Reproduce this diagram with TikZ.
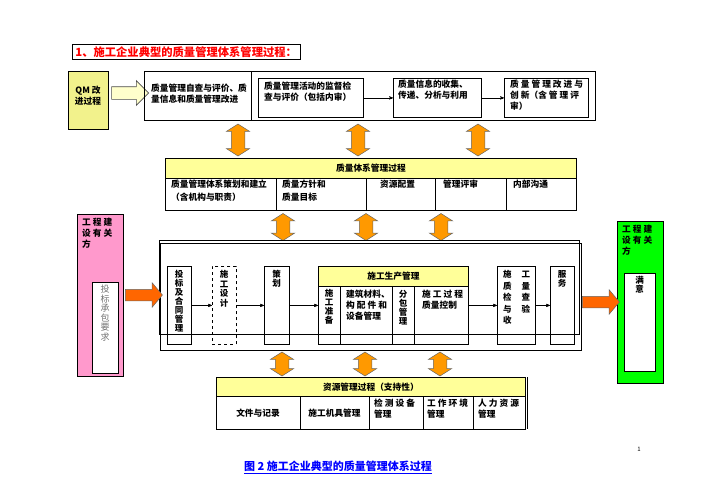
\documentclass[tikz,border=0pt]{standalone}
\usepackage{fontspec}
\setmainfont{Noto Sans CJK SC}
\usetikzlibrary{arrows, shapes.arrows, positioning}

\definecolor{qmyellow}{HTML}{F2F28C}
\definecolor{hdyellow}{HTML}{FFFF99}
\definecolor{pinkbox}{HTML}{FF99CC}
\definecolor{greenbox}{HTML}{00FF00}
\definecolor{arrorange}{HTML}{FF9900}
\definecolor{bigorange}{HTML}{FF6600}
\definecolor{hollowyellow}{HTML}{FFFFCC}

\begin{document}
\begin{tikzpicture}[x=1pt, y=-1pt, >=stealth',
	every node/.style = {font=\bfseries\fontsize{8.7}{11}\selectfont, inner sep=0pt},
	box/.style = {draw, line width=0.8pt, anchor=north west},
	txt/.style = {anchor=north west, align=left},
	vtxt/.style = {anchor=north, align=center, font=\bfseries\fontsize{8.5}{9}\selectfont},
	link/.style = {->, line width=0.5pt},
	updown/.style = {double arrow, draw=black!60, fill=arrorange, line width=0.5pt,
		shape border rotate=90, minimum height=#1, inner xsep=6.5pt, inner ysep=0pt,
		double arrow head extend=5pt, double arrow tip angle=115},
	bigarrow/.style = {single arrow, draw=black!60, fill=bigorange, line width=0.5pt,
		minimum height=37pt, inner ysep=5.5pt, inner xsep=0pt, single arrow head extend=6.5pt,
		single arrow tip angle=100}]
	\useasboundingbox (0,0) rectangle (702,496);

	% title
	\node[draw, line width=0.8pt, anchor=north west, text width=222pt, inner xsep=3pt, inner ysep=2pt,
		text=red, font=\bfseries\fontsize{11.3}{13}\selectfont] (title) at (72,44)
		{1、施工企业典型的质量管理体系管理过程：};

	% top row: improvement
	\node[box, fill=qmyellow, minimum width=40pt, minimum height=58pt] (qm) at (68,71) {};
	\node[align=center] (qmtext) at (88,96) {QM 改\\进过程};
	\node[single arrow, draw=black!70, fill=hollowyellow, line width=0.6pt, minimum height=37pt,
		inner ysep=6pt, inner xsep=0pt, single arrow head extend=6pt] (qmarrow) at (127,93) {};
	\node[box, minimum width=451pt, minimum height=49pt] (topbox) at (144,71) {};
	\draw[line width=0.8pt] (251,71) -- (251,120);
	\node[txt] (t1) at (151,84) {质量管理自查与评价、质\\量信息和质量管理改进};
	\node[box, minimum width=105pt, minimum height=39pt] (b2) at (258,78) {};
	\node[txt] at (264,82) {质量管理活动的监督检\\查与评价（包括内审）};
	\node[box, minimum width=88pt, minimum height=39pt] (b3) at (393,78) {};
	\node[txt] at (398,80) {质量信息的收集、\\传递、分析与利用};
	\node[box, minimum width=84pt, minimum height=39pt] (b4) at (504,78) {};
	\node[txt] at (510,80) {质 量 管 理 改 进 与\\创 新（含 管 理 评\\审）};
	\draw[link] (b2) -- (b3);
	\draw[link] (b3) -- (b4);

	\node[updown=32pt] (ua1) at (238,140) {};
	\node[updown=32pt] (ua2) at (358,140) {};
	\node[updown=32pt] (ua3) at (478,140) {};

	% quality system process
	\node[box, fill=hdyellow, minimum width=411pt, minimum height=20pt] (qmshead) at (165,158) {质量体系管理过程};
	\node[box, minimum width=411pt, minimum height=32pt] (qmsrow) at (165,178) {};
	\foreach \x in {276, 366, 435, 506}
		\draw[line width=0.8pt] (\x,178) -- (\x,210);
	\node[txt, font=\bfseries\fontsize{8.7}{13}\selectfont] at (171,180) {质量管理体系策划和建立\\（含机构与职责）};
	\node[txt, font=\bfseries\fontsize{8.7}{13}\selectfont] at (282,180) {质量方针和\\质量目标};
	\node[txt] at (380,180) {资源配置};
	\node[txt] at (443,180) {管理评审};
	\node[txt] at (513,180) {内部沟通};

	\node[updown=27pt] (ma1) at (283,227) {};
	\node[updown=27pt] (ma2) at (366,227) {};
	\node[updown=27pt] (ma3) at (441,227) {};

	% construction process
	\draw[line width=0.6pt] (159,240) rectangle (579,334);
	\node[box, line width=1.1pt, minimum width=421pt, minimum height=107pt] (mainbox) at (160,243) {};
	\node[box, minimum width=24pt, minimum height=78pt] (ht) at (167,266) {};
	\node[vtxt] at (179,270) {投\\标\\及\\合\\同\\管\\理};
	\node[box, dashed, minimum width=24pt, minimum height=78pt] (sj) at (212,266) {};
	\node[vtxt, font=\bfseries\fontsize{8.5}{9.5}\selectfont] at (224,270) {施\\工\\设\\计};
	\node[box, minimum width=25pt, minimum height=78pt] (ch) at (264,266) {};
	\node[vtxt] at (276.5,270) {策\\划};
	\node[box, fill=hdyellow, minimum width=150pt, minimum height=20pt] (sc) at (318,266) {施工生产管理};
	\node[box, minimum width=22pt, minimum height=58pt] (zb) at (318,286) {};
	\node[vtxt] at (329,289) {施\\工\\准\\备};
	\node[box, minimum width=52pt, minimum height=58pt] (cl) at (340,286) {};
	\node[txt] at (346,290) {建筑材料、\\构 配 件 和\\设备管理};
	\node[box, minimum width=22pt, minimum height=58pt] (fb) at (392,286) {};
	\node[vtxt] at (403,290) {分\\包\\管\\理};
	\node[box, minimum width=54pt, minimum height=58pt] (gc) at (414,286) {};
	\node[txt] at (422,290) {施 工 过 程\\质量控制};
	\node[box, minimum width=38pt, minimum height=78pt] (jy) at (497,266) {};
	\node[txt, font=\bfseries\fontsize{8.5}{11.5}\selectfont] at (503,270)
		{施\hspace{10pt}工\\质\hspace{10pt}量\\检\hspace{10pt}查\\与\hspace{10pt}验\\收};
	\node[box, minimum width=24pt, minimum height=78pt] (fw) at (550,266) {};
	\node[vtxt] at (562,270) {服\\务};
	\draw[link] (ht) -- (sj);
	\draw[link] (sj) -- (ch);
	\draw[link] (ch) -- (zb.west |- ch);
	\draw[link] (gc.east |- jy) -- (jy);
	\draw[link] (jy) -- (fw);

	% parties
	\node[box, fill=pinkbox, minimum width=46pt, minimum height=162pt] (client) at (77,214) {};
	\node[txt] at (82,218) {工~程~建\\设~有~关\\方};
	\node[box, fill=white, line width=0.5pt, minimum width=26pt, minimum height=91pt] (req) at (92,282) {};
	\node[vtxt, font=\fontsize{9}{9.5}\selectfont, text=black!55] at (105,285) {投\\标\\承\\包\\要\\求};
	\node[bigarrow] (inarrow) at (141.5,295) {};

	\node[box, fill=greenbox, minimum width=46pt, minimum height=162pt] (owner) at (617,221) {};
	\node[txt] at (622,225) {工~程~建\\设~有~关\\方};
	\node[box, fill=white, line width=0.5pt, minimum width=31pt, minimum height=98pt] (sat) at (624,273) {};
	\node[vtxt] at (639.5,276) {满\\意};
	\node[bigarrow] (outarrow) at (598.5,302) {};

	\node[updown=24pt] (da1) at (282,364) {};
	\node[updown=24pt] (da2) at (365,364) {};
	\node[updown=24pt] (da3) at (440,364) {};

	% resource management
	\node[box, fill=hdyellow, minimum width=309pt, minimum height=19pt] (reshead) at (216,377) {资源管理过程（支持性）};
	\node[box, minimum width=309pt, minimum height=33pt] (resrow) at (216,396) {};
	\draw[line width=0.8pt] (527,377) -- (527,429);
	\foreach \x in {300, 369, 423, 473}
		\draw[line width=0.8pt] (\x,396) -- (\x,429);
	\node at (258,413) {文件与记录};
	\node at (334.5,413) {施工机具管理};
	\node[txt] at (374,399) {检 测 设 备\\管理};
	\node[txt] at (427,399) {工 作 环 境\\管理};
	\node[txt] at (478,399) {人 力 资 源\\管理};

	% caption
	\node[font=\bfseries\fontsize{11}{13}\selectfont, text=blue] (caption) at (338,467)
		{\underline{图 2 施工企业典型的质量管理体系过程}};
	\node[font=\fontsize{6}{7}\selectfont] (pagenum) at (639,449) {1};
\end{tikzpicture}
\end{document}
